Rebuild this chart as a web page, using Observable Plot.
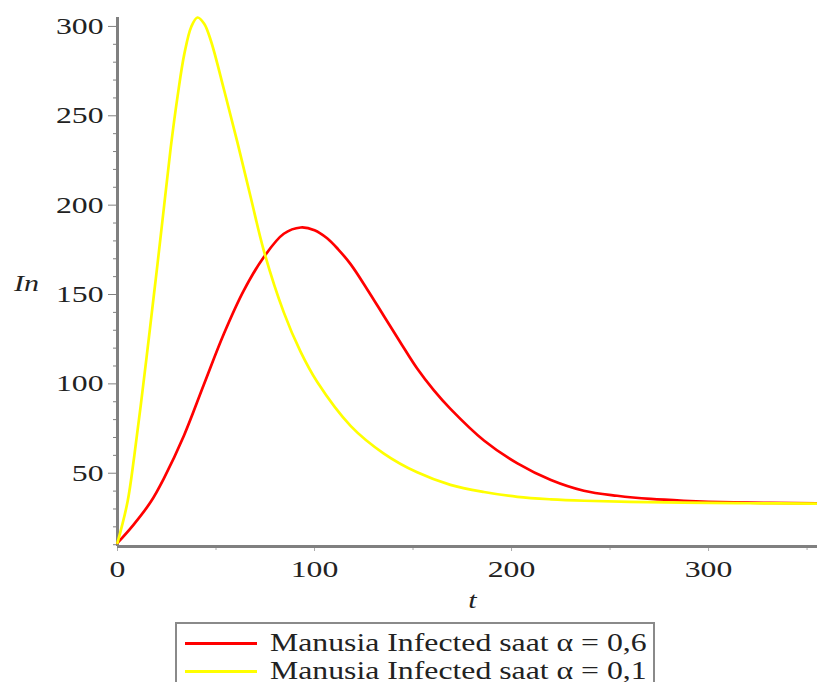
<!DOCTYPE html>
<html><head><meta charset="utf-8">
<script src="https://cdn.jsdelivr.net/npm/d3@7"></script>
<script src="https://cdn.jsdelivr.net/npm/@observablehq/plot@0.6"></script>
<style>
html,body{margin:0;padding:0;background:#fff;overflow:hidden;}
#wrap{position:relative;width:817px;height:682px;overflow:hidden;}
#legend{position:absolute;left:175px;top:622px;width:480px;height:80px;border:2px solid #8a8a8a;box-sizing:border-box;font-family:"Liberation Serif","Times New Roman",serif;font-size:25px;color:#222;}
.row{position:absolute;left:0;height:28px;display:flex;align-items:center;white-space:nowrap;}
.sw{display:inline-block;width:72px;height:3px;margin-left:8px;margin-right:13px;}
.lt{display:inline-block;transform:scaleX(1.27);transform-origin:left center;}
</style></head>
<body><div id="wrap"><div id="chart"></div><div id="legend"></div></div>
<script>
// Series α = 0,6 (red)
const redT  = [0, 8, 16.9, 23.5, 33.7, 43.8, 54, 64, 74.3, 84.4, 93, 100, 106.4, 112, 118.3, 126.7, 135.2, 143.6, 152.1, 160.5, 169, 186, 203, 220, 236.7, 253.6, 270.6, 287.5, 312.9, 355.3];
const redIn = [11, 21, 34, 47, 71, 99.5, 128, 152, 171, 184, 187.5, 186, 181.5, 175.3, 167, 153, 138, 123.2, 108.6, 96.5, 86, 68.3, 55.5, 46.2, 40.2, 37.4, 35.6, 34.6, 33.7, 33.1];
// Series α = 0,1 (yellow)
const yellowT  = [0, 5.1, 8.5, 11.8, 15.2, 18.6, 20.3, 23.7, 27, 30.5, 33.9, 37.5, 40.6, 44, 47.4, 54.2, 60.9, 67.7, 74.4, 84.4, 92.9, 101.4, 118.3, 135.2, 152.1, 169, 186, 203, 220, 237, 260, 287, 320, 355.3];
const yellowIn = [11, 34, 59.5, 88, 119, 151, 167, 200, 232, 261, 284.5, 300, 305, 301.5, 292, 264, 235, 204, 174, 140, 118, 101, 76.5, 61, 50.5, 43.5, 39.5, 36.8, 35.4, 34.6, 34, 33.6, 33.2, 33];

const seriesNames  = ["Manusia Infected saat α = 0,6", "Manusia Infected saat α = 0,1"];
const seriesColors = ["#ff0000", "#ffff00"];

const xTicks = [0, 100, 200, 300];
const xMinorTicks = [50, 150, 250, 350];
const yTicks = [50, 100, 150, 200, 250, 300];
const yMinorTicks = [10, 20, 30, 40, 60, 70, 80, 90, 110, 120, 130, 140, 160, 170, 180, 190, 210, 220, 230, 240, 260, 270, 280, 290];
const xDomain = [0, 355.3];
const yDomain = [9, 305];
const xLabel = "t";
const yLabel = "In";

const red = redT.map((t, i) => ({t, v: redIn[i]}));
const yellow = yellowT.map((t, i) => ({t, v: yellowIn[i]}));

const axisColor = "#808080";
const font = "'Liberation Serif', 'Times New Roman', serif";

const chart = Plot.plot({
  width: 817,
  height: 615,
  marginLeft: 117,
  marginRight: 0,
  marginTop: 17,
  marginBottom: 69,
  x: {domain: xDomain},
  y: {domain: yDomain},
  style: {fontFamily: font, background: "white", overflow: "visible", color: "#222"},
  marks: [
    Plot.axisY(yMinorTicks, {tickSize: 4, text: null, stroke: axisColor, label: null}),
    Plot.axisY(yTicks, {tickSize: 9, tickPadding: 5, fontSize: 23, stroke: axisColor, fill: "#222", label: null}),
    Plot.axisX(xMinorTicks, {tickSize: 4, text: null, stroke: "#aaa", label: null}),
    Plot.axisX(xTicks, {tickSize: 5, tickPadding: 9, fontSize: 23, stroke: "#aaa", fill: "#222", label: null}),
    Plot.ruleX([xDomain[0]], {stroke: axisColor, strokeWidth: 3}),
    Plot.ruleY([yDomain[0]], {stroke: axisColor, strokeWidth: 3}),
    Plot.line(red, {x: "t", y: "v", stroke: seriesColors[0], strokeWidth: 2.7, curve: "catmull-rom"}),
    Plot.line(yellow, {x: "t", y: "v", stroke: seriesColors[1], strokeWidth: 2.7, curve: "catmull-rom"}),
    Plot.text([yLabel], {frameAnchor: "left", dx: -91, dy: 1, text: d => d, fontSize: 24, fontStyle: "italic", fill: "#222", textAnchor: "middle", lineAnchor: "middle"}),
    Plot.text([xLabel], {frameAnchor: "bottom", dx: 5, dy: 54, text: d => d, fontSize: 24, fontStyle: "italic", fill: "#222", textAnchor: "middle", lineAnchor: "middle"})
  ]
});

// widen glyphs horizontally (the reference text is stretched)
function stretch(sel, k) {
  chart.querySelectorAll(sel).forEach(t => {
    const tr = t.getAttribute("transform") || "";
    const x = t.getAttribute("x"), y = t.getAttribute("y");
    let pre = "";
    if (x != null && /^-?[\d.]+$/.test(x)) { pre += ` translate(${x},0)`; t.removeAttribute("x"); }
    if (y != null && /^-?[\d.]+$/.test(y)) { pre += ` translate(0,${y})`; t.removeAttribute("y"); }
    t.setAttribute("transform", `${tr}${pre} scale(${k},1)`);
  });
}
stretch('g[aria-label="y-axis tick label"] text', 1.38);
stretch('g[aria-label="x-axis tick label"] text', 1.38);
stretch('g[aria-label="text"] text', 1.25);

document.getElementById("chart").appendChild(chart);

const legend = document.getElementById("legend");
seriesNames.forEach((name, i) => {
  const row = document.createElement("div");
  row.className = "row";
  row.style.top = (5 + i * 28) + "px";
  const sw = document.createElement("span");
  sw.className = "sw";
  sw.style.background = seriesColors[i];
  const tx = document.createElement("span");
  tx.className = "lt";
  tx.textContent = name;
  row.appendChild(sw);
  row.appendChild(tx);
  legend.appendChild(row);
});
</script>
</body></html>
